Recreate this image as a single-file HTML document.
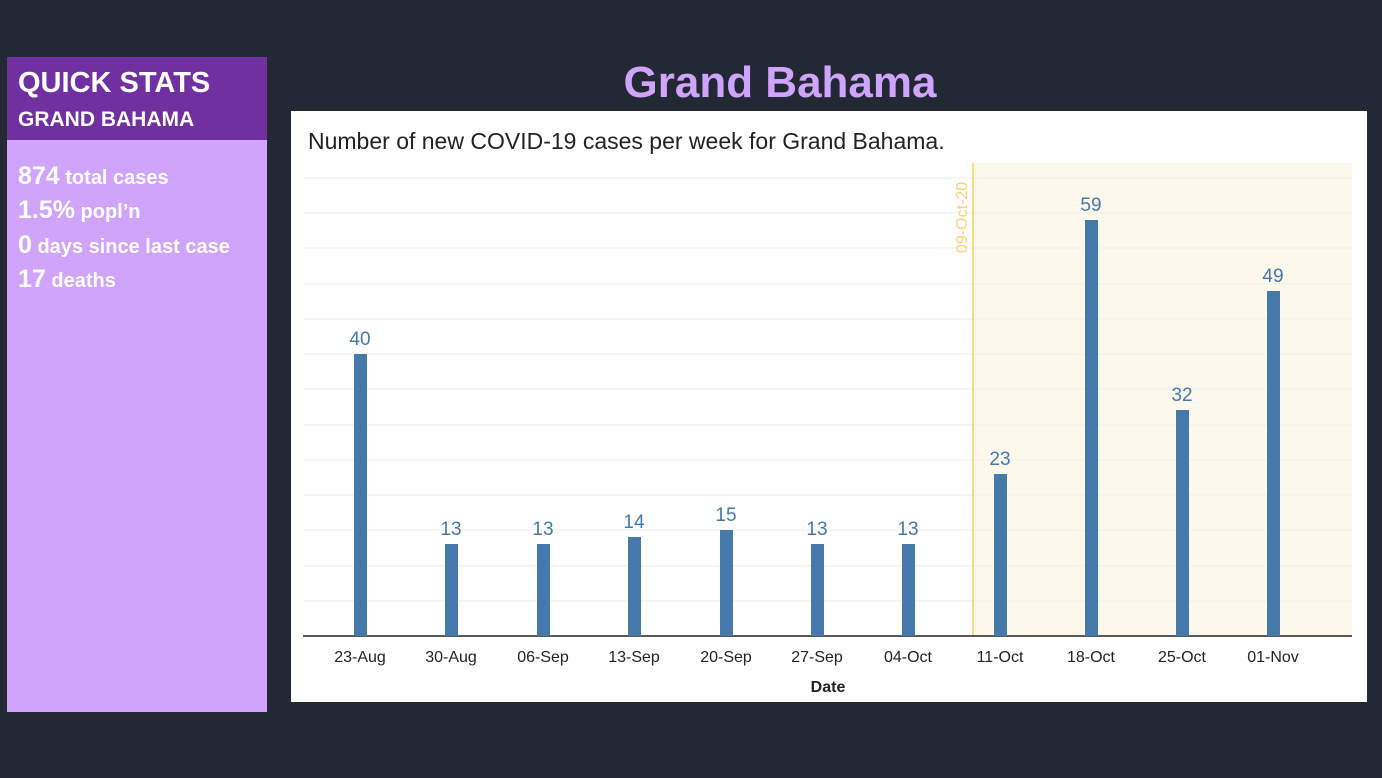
<!DOCTYPE html>
<html><head><style>
body{margin:0;width:1382px;height:778px;background:#222834;position:relative;overflow:hidden;font-family:"Liberation Sans",sans-serif}
.lp{position:absolute;left:7px;top:57px;width:260px;height:655px;background:#d0a4fb}
.hd{position:absolute;left:0;top:0;width:260px;height:83px;background:#7030a0;color:#fff;font-weight:bold}
.st{position:absolute;left:11px;top:102px;color:#fff;font-weight:bold;font-size:20px}
.st div{height:34.3px;line-height:34px}
.st b{font-size:25px;line-height:34px}
</style></head><body>
<div class="lp"><div class="hd"><div style="position:absolute;left:11px;top:10px;font-size:29px">QUICK STATS</div><div style="position:absolute;left:11px;top:51px;font-size:21px">GRAND BAHAMA</div></div>
<div class="st"><div><b>874</b> total cases</div><div><b>1.5%</b> popl’n</div><div><b>0</b> days since last case</div><div><b>17</b> deaths</div></div></div>
<div style="position:absolute;left:560px;top:58px;width:440px;text-align:center;color:#d0a4fb;font-weight:bold;font-size:44px">Grand Bahama</div>
<svg style="position:absolute;left:0;top:0" width="1382" height="778">
<rect x="291" y="111" width="1076" height="591" fill="#fff"/>
<text x="308" y="149" font-size="23" fill="#222" font-family="Liberation Sans">Number of new COVID-19 cases per week for Grand Bahama.</text>
<rect x="973" y="163" width="379" height="473" fill="#fdf8ec"/>
<g stroke="#eee" stroke-width="1">
<line x1="303" x2="1352" y1="601" y2="601"/><line x1="303" x2="1352" y1="566" y2="566"/><line x1="303" x2="1352" y1="530" y2="530"/><line x1="303" x2="1352" y1="495" y2="495"/><line x1="303" x2="1352" y1="460" y2="460"/><line x1="303" x2="1352" y1="425" y2="425"/><line x1="303" x2="1352" y1="389" y2="389"/><line x1="303" x2="1352" y1="354" y2="354"/><line x1="303" x2="1352" y1="319" y2="319"/><line x1="303" x2="1352" y1="284" y2="284"/><line x1="303" x2="1352" y1="248" y2="248"/><line x1="303" x2="1352" y1="213" y2="213"/><line x1="303" x2="1352" y1="178" y2="178"/>
</g>
<line x1="973" x2="973" y1="163" y2="636" stroke="#fcd98a" stroke-width="2"/>
<text transform="translate(967,253) rotate(-90)" font-size="16" fill="#fcd06a" font-family="Liberation Sans">09-Oct-20</text>
<line x1="303" x2="1352" y1="636" y2="636" stroke="#222" stroke-width="1.5"/>
<g fill="#4479a9">
<rect x="354" y="354" width="13" height="282"/><rect x="445" y="544" width="13" height="92"/><rect x="537" y="544" width="13" height="92"/><rect x="628" y="537" width="13" height="99"/><rect x="720" y="530" width="13" height="106"/><rect x="811" y="544" width="13" height="92"/><rect x="902" y="544" width="13" height="92"/><rect x="994" y="474" width="13" height="162"/><rect x="1085" y="220" width="13" height="416"/><rect x="1176" y="410" width="13" height="226"/><rect x="1267" y="291" width="13" height="345"/>
</g>
<g fill="#4479a9" font-size="19" text-anchor="middle" font-family="Liberation Sans">
<text x="360" y="345">40</text><text x="451" y="535">13</text><text x="543" y="535">13</text><text x="634" y="528">14</text><text x="726" y="521">15</text><text x="817" y="535">13</text><text x="908" y="535">13</text><text x="1000" y="465">23</text><text x="1091" y="211">59</text><text x="1182" y="401">32</text><text x="1273" y="282">49</text>
</g>
<g fill="#222" font-size="16" text-anchor="middle" font-family="Liberation Sans">
<text x="360" y="662">23-Aug</text><text x="451" y="662">30-Aug</text><text x="543" y="662">06-Sep</text><text x="634" y="662">13-Sep</text><text x="726" y="662">20-Sep</text><text x="817" y="662">27-Sep</text><text x="908" y="662">04-Oct</text><text x="1000" y="662">11-Oct</text><text x="1091" y="662">18-Oct</text><text x="1182" y="662">25-Oct</text><text x="1273" y="662">01-Nov</text>
<text x="828" y="692" font-weight="bold">Date</text>
</g>
</svg>
</body></html>
